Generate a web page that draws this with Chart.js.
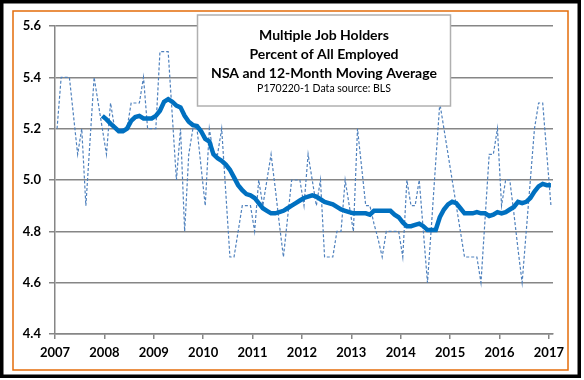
<!DOCTYPE html>
<html>
<head>
<meta charset="utf-8">
<script src="https://cdn.jsdelivr.net/npm/chart.js@4.4.0/dist/chart.umd.min.js"></script>
<style>
  html, body { margin: 0; padding: 0; background: #fff; }
  #wrap { width: 584px; height: 380px; position: relative; }
</style>
</head>
<body>
<div id="wrap"><canvas id="chart" width="584" height="380"></canvas></div>
<script>
// Multiple job holders as % of all employed, monthly Jan 2007 - Jan 2017
const yearLabels = ['2007', '2008', '2009', '2010', '2011', '2012', '2013', '2014', '2015', '2016', '2017'];
const yTicks = [4.4, 4.6, 4.8, 5.0, 5.2, 5.4, 5.6];

// not seasonally adjusted, one row per year
const nsa = [
    5.2, 5.4, 5.4, 5.4, 5.25, 5.1, 5.2, 4.9, 5.15, 5.4, 5.3, 5.2,
    5.1, 5.3, 5.2, 5.2, 5.2, 5.2, 5.3, 5.3, 5.3, 5.4, 5.2, 5.2,
    5.2, 5.5, 5.5, 5.5, 5.25, 5.0, 5.2, 4.8, 5.1, 5.2, 5.2, 5.05,
    4.9, 5.2, 5.1, 5.1, 5.2, 4.95, 4.7, 4.7, 4.8, 4.9, 4.9, 4.9,
    4.8, 5.0, 4.9, 5.0, 5.1, 4.97, 4.83, 4.7, 4.85, 5.0, 5.0, 5.0,
    4.9, 5.1, 5.0, 4.9, 5.0, 4.7, 4.7, 4.7, 4.8, 4.8, 5.0, 4.9,
    4.8, 5.2, 5.05, 4.9, 4.9, 4.83, 4.77, 4.7, 4.8, 4.8, 4.8, 4.8,
    4.7, 5.0, 4.9, 4.9, 5.0, 4.8, 4.6, 4.83, 5.07, 5.3, 5.2, 5.1,
    5.0, 4.9, 4.8, 4.7, 4.7, 4.7, 4.7, 4.6, 4.85, 5.1, 5.1, 5.2,
    4.9, 5.0, 5.0, 4.87, 4.73, 4.6, 4.8, 5.0, 5.2, 5.3, 5.3, 5.1,
    4.9
];

// 12-month moving average (starts Dec 2007)
const movingAvg = [
    null, null, null, null, null, null, null, null, null, null, null, 5.25,
    5.236, 5.22, 5.205, 5.19, 5.19, 5.2, 5.23, 5.245, 5.25, 5.24, 5.24, 5.24,
    5.25, 5.27, 5.305, 5.315, 5.305, 5.29, 5.283, 5.25, 5.227, 5.214, 5.21, 5.19,
    5.16, 5.15, 5.1, 5.085, 5.075, 5.06, 5.04, 5.01, 4.98, 4.96, 4.945, 4.94,
    4.93, 4.91, 4.89, 4.88, 4.87, 4.87, 4.875, 4.88, 4.89, 4.9, 4.91, 4.92,
    4.93, 4.935, 4.94, 4.935, 4.925, 4.915, 4.91, 4.905, 4.895, 4.885, 4.88, 4.875,
    4.87, 4.87, 4.87, 4.87, 4.865, 4.88, 4.88, 4.88, 4.88, 4.88, 4.865, 4.855,
    4.835, 4.82, 4.82, 4.825, 4.83, 4.82, 4.805, 4.805, 4.805, 4.855, 4.885, 4.905,
    4.915, 4.91, 4.89, 4.87, 4.87, 4.87, 4.875, 4.87, 4.87, 4.86, 4.865, 4.875,
    4.87, 4.875, 4.885, 4.895, 4.915, 4.91, 4.915, 4.93, 4.955, 4.975, 4.985, 4.98,
    4.98
];

const titleLines = ['Multiple Job Holders', 'Percent of All Employed', 'NSA and 12-Month Moving Average'];
const subtitle = 'P170220-1 Data source: BLS';

// each month sits in the middle of its slot, years fall on slot boundaries
const toPoints = arr => arr.map((v, i) => ({ x: i + 0.5, y: v }));

const axisFont = { family: "Lato, 'Open Sans', sans-serif", size: 13, weight: 'bold' };
const gridGray = '#868686';

// outer frames + title box
const decorPlugin = {
    id: 'decor',
    beforeDraw(chart) {
        const ctx = chart.ctx;
        ctx.save();
        ctx.fillStyle = '#fff';
        ctx.fillRect(0, 0, chart.width, chart.height);
        ctx.strokeStyle = '#000';
        ctx.lineWidth = 3.5;
        ctx.strokeRect(1.75, 1.75, 577.5, 374.5);
        ctx.strokeStyle = '#e46c0a';
        ctx.lineWidth = 1.5;
        ctx.strokeRect(13, 11, 555, 359);
        ctx.restore();
    },
    afterDatasetsDraw(chart) {
        const ctx = chart.ctx;
        ctx.save();
        ctx.fillStyle = '#fff';
        ctx.fillRect(197.5, 15, 253, 91);
        ctx.strokeStyle = '#b0b0b0';
        ctx.lineWidth = 1.5;
        ctx.strokeRect(197.5, 15, 253, 91);
        ctx.fillStyle = '#000';
        ctx.textAlign = 'center';
        ctx.textBaseline = 'middle';
        ctx.font = "bold 14px Lato, 'Open Sans', sans-serif";
        titleLines.forEach((line, i) => {
            ctx.fillText(line, 324, 35 + i * 19);
        });
        ctx.font = "10.5px Lato, 'Open Sans', sans-serif";
        ctx.fillText(subtitle, 324, 89);
        ctx.restore();
    }
};

new Chart(document.getElementById('chart'), {
    type: 'line',
    data: {
        datasets: [{
            label: '12-Month Moving Average',
            data: toPoints(movingAvg),
            borderColor: '#0070c0',
            borderWidth: 4.5,
            pointRadius: 0,
            tension: 0
        }, {
            label: 'NSA',
            data: toPoints(nsa),
            borderColor: '#4f81bd',
            borderWidth: 1.2,
            borderDash: [3, 2],
            pointRadius: 0,
            tension: 0
        }]
    },
    options: {
        responsive: false,
        animation: false,
        events: [],
        layout: {
            padding: { left: 0, right: 31, top: 26, bottom: 12 }
        },
        plugins: {
            legend: { display: false },
            tooltip: { enabled: false }
        },
        scales: {
            x: {
                type: 'linear',
                min: 0,
                max: 121,
                afterBuildTicks: scale => {
                    scale.ticks = yearLabels.map((_, i) => ({ value: i * 12 }));
                },
                afterFit: scale => { scale.height = 34; },
                grid: {
                    drawOnChartArea: false,
                    drawTicks: true,
                    tickLength: 5,
                    color: gridGray,
                    lineWidth: 1.5
                },
                border: { color: gridGray, width: 1.5 },
                ticks: {
                    font: axisFont,
                    color: '#000',
                    padding: 6,
                    maxRotation: 0,
                    autoSkip: false,
                    callback: v => yearLabels[v / 12]
                }
            },
            y: {
                min: 4.4,
                max: 5.6,
                afterBuildTicks: scale => {
                    scale.ticks = yTicks.map(v => ({ value: v }));
                },
                afterFit: scale => { scale.width = 55; },
                grid: {
                    color: gridGray,
                    lineWidth: 1.5,
                    tickLength: 6
                },
                border: { color: gridGray, width: 1.5 },
                ticks: {
                    font: axisFont,
                    color: '#000',
                    padding: 8,
                    callback: v => v.toFixed(1)
                }
            }
        }
    },
    plugins: [decorPlugin]
});
</script>
</body>
</html>
